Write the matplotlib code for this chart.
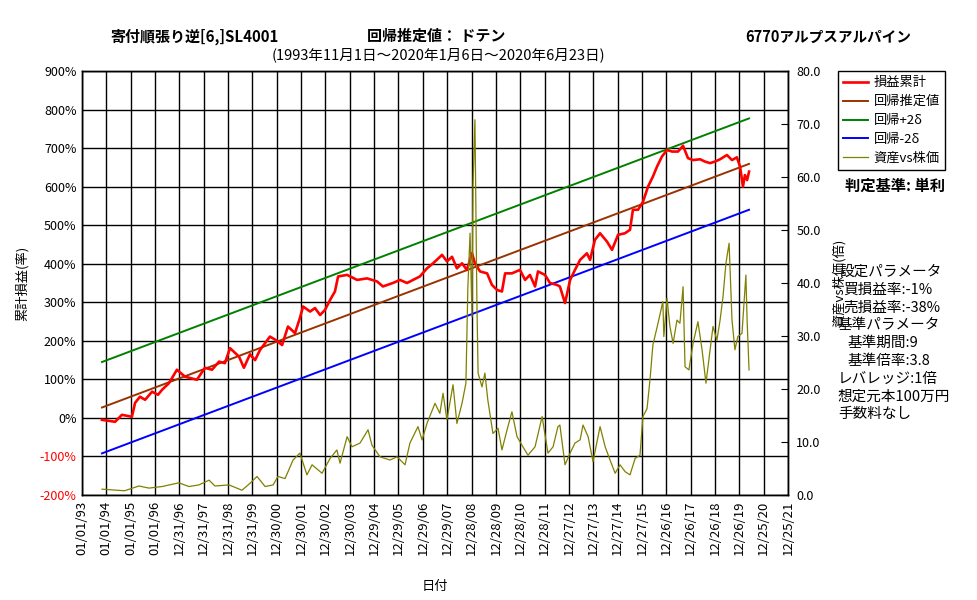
import matplotlib
matplotlib.use('Agg')
import matplotlib.pyplot as plt

plt.rcParams['font.family'] = ['Noto Sans CJK JP', 'DejaVu Sans']

# x values are years since 01/01/93 in 365-day steps (same spacing as the tick grid)
tick_labels = ['01/01/93', '01/01/94', '01/01/95', '01/01/96', '12/31/96', '12/31/97',
               '12/31/98', '12/31/99', '12/30/00', '12/30/01', '12/30/02', '12/30/03',
               '12/29/04', '12/29/05', '12/29/06', '12/29/07', '12/28/08', '12/28/09',
               '12/28/10', '12/28/11', '12/27/12', '12/27/13', '12/27/14', '12/27/15',
               '12/26/16', '12/26/17', '12/26/18', '12/26/19', '12/25/20', '12/25/21']

# 損益累計 (%)
pl_t = [0.82, 1.36, 1.64, 2.05, 2.18, 2.38, 2.59, 2.88, 3.12, 3.29, 3.57, 3.90, 4.23, 4.72,
        5.05, 5.34, 5.63, 5.87, 6.08, 6.45, 6.65, 6.90, 7.11, 7.31, 7.72, 8.01, 8.22, 8.46,
        8.75, 8.95, 9.08, 9.37, 9.57, 9.78, 9.98, 10.19, 10.39, 10.52, 10.89, 11.30, 11.71,
        12.12, 12.36, 12.77, 13.06, 13.35, 13.60, 13.88, 14.17, 14.42, 14.79, 14.99, 15.20,
        15.40, 15.61, 15.81, 16.02, 16.14, 16.35, 16.64, 16.84, 17.05, 17.25, 17.38, 17.66,
        17.99, 18.20, 18.40, 18.61, 18.73, 19.02, 19.22, 19.51, 19.63, 19.84, 20.05, 20.25,
        20.46, 20.74, 20.87, 21.07, 21.28, 21.57, 21.77, 22.02, 22.30, 22.51, 22.63, 22.84,
        23.04, 23.25, 23.45, 23.62, 23.82, 24.03, 24.24, 24.48, 24.69, 24.89, 25.10, 25.39,
        25.59, 25.80, 26.00, 26.21, 26.49, 26.70, 26.90, 27.03, 27.15, 27.23, 27.32, 27.40]
pl_pct = [-5, -10, 8, 3, 39, 55, 47, 68, 60, 73, 90, 125, 107, 99,
          130, 125, 146, 142, 181, 159, 130, 165, 150, 176, 211, 200, 189, 237,
          220, 259, 289, 276, 285, 267, 280, 306, 328, 367, 371, 358, 362,
          354, 341, 350, 358, 350, 358, 367, 388, 401, 423, 406, 418,
          388, 401, 384, 427, 401, 380, 375, 345, 332, 328, 375, 375,
          384, 358, 371, 341, 380, 371, 350, 345, 341, 298, 358, 384,
          410, 427, 410, 462, 479, 457, 436, 475, 479, 488, 540, 540,
          560, 600, 626, 652, 678, 695, 691, 691, 706, 674, 669, 671,
          665, 661, 665, 671, 682, 669, 676, 652, 600, 630, 617, 639]

# regression lines (start / end)
reg_t = [0.82, 27.40]
reg_mid = [27, 659]
reg_up = [145, 777]
reg_dn = [-92, 540]

# 資産vs株価 (倍)
ratio_t = [0.82, 1.44, 1.75, 2.34, 2.75, 3.29, 3.98, 4.39, 4.80, 5.22, 5.46, 6.04, 6.57,
           6.90, 7.19, 7.52, 7.85, 8.05, 8.34, 8.67, 8.95, 9.24, 9.45, 9.86, 10.19, 10.47,
           10.60, 10.89, 11.09, 11.42, 11.75, 11.91, 12.24, 12.65, 12.94, 13.27, 13.47,
           13.80, 13.97, 14.17, 14.50, 14.70, 14.83, 14.99, 15.24, 15.40, 15.61, 15.77,
           15.85, 15.94, 16.02, 16.06, 16.14, 16.22, 16.27, 16.43, 16.55, 16.67, 16.88,
           17.09, 17.25, 17.46, 17.66, 17.87, 18.11, 18.32, 18.61, 18.90, 19.14, 19.35,
           19.55, 19.63, 19.84, 20.05, 20.25, 20.46, 20.58, 20.79, 20.99, 21.28, 21.49,
           21.69, 21.90, 22.10, 22.31, 22.51, 22.72, 22.92, 23.04, 23.21, 23.33, 23.45,
           23.66, 23.86, 23.90, 24.03, 24.15, 24.28, 24.44, 24.56, 24.69, 24.77, 24.93,
           25.10, 25.30, 25.47, 25.63, 25.80, 25.92, 26.08, 26.21, 26.33, 26.45, 26.58,
           26.70, 26.82, 26.94, 27.11, 27.27, 27.32, 27.40]
ratio_val = [1.1, 0.9, 0.8, 1.7, 1.3, 1.6, 2.3, 1.6, 1.9, 2.8, 1.7, 1.9, 0.9,
             2.2, 3.5, 1.6, 1.9, 3.5, 3.1, 6.6, 7.9, 3.8, 5.7, 4.1, 6.9, 8.5,
             6.0, 11.0, 9.1, 9.8, 12.3, 9.4, 7.2, 6.6, 7.2, 5.7, 9.8,
             12.9, 10.4, 13.5, 17.3, 15.4, 19.2, 14.2, 20.8, 13.5, 17.3, 21.1,
             39.3, 49.4, 33.6, 58.2, 70.8, 36.8, 23.0, 20.4, 23.0, 17.9, 11.6,
             12.6, 8.5, 12.3, 15.7, 11.0, 9.1, 7.5, 9.1, 14.8, 7.9, 9.1,
             12.9, 13.2, 5.7, 7.9, 9.8, 10.4, 13.2, 11.0, 6.3, 12.9, 9.1,
             6.6, 4.1, 5.7, 4.4, 3.8, 6.9, 7.5, 14.8, 16.3, 21.7, 28.3,
             32.4, 36.5, 29.9, 37.1, 31.8, 28.6, 33.0, 32.4, 39.3, 24.2, 23.6,
             28.6, 32.7, 27.4, 21.1, 27.4, 31.8, 29.2, 33.0, 37.4, 43.7, 47.5,
             33.0, 27.4, 29.9, 30.5, 41.5, 33.0, 23.6]

W, H = 977, 600
fig = plt.figure(figsize=(W / 100, H / 100), dpi=100)
ax = fig.add_axes([82 / W, 105 / H, 706 / W, 424 / H])
ax2 = ax.twinx()

l1, = ax.plot(pl_t, pl_pct, color='#FF0000', lw=1.9, label='損益累計', zorder=5)
l2, = ax.plot(reg_t, reg_mid, color='#993300', lw=1.4, label='回帰推定値', zorder=4)
l3, = ax.plot(reg_t, reg_up, color='#008000', lw=1.4, label='回帰+2δ', zorder=4)
l4, = ax.plot(reg_t, reg_dn, color='#0000FF', lw=1.4, label='回帰-2δ', zorder=4)
l5, = ax2.plot(ratio_t, ratio_val, color='#808000', lw=0.9, label='資産vs株価')

# left axis
ax.set_xlim(0, len(tick_labels) - 1)
ax.set_ylim(-200, 900)
yt = list(range(-200, 1000, 100))
ax.set_yticks(yt)
ax.set_yticklabels([f'{v}%' for v in yt], fontsize=9)
for v, lab in zip(yt, ax.get_yticklabels()):
    if v < 0:
        lab.set_color('red')
ax.set_xticks(range(len(tick_labels)))
ax.set_xticklabels(tick_labels, rotation=90, fontsize=9.5)
ax.tick_params(axis='both', length=0, pad=4)
ax.grid(True, color='black', lw=1)
ax.set_axisbelow(True)
ax.set_ylabel('累計損益(率)', fontsize=9.5, labelpad=8)
ax.set_xlabel('日付', fontsize=9.5, labelpad=18)

# right axis
ax2.set_ylim(0, 80)
ax2.set_yticks(range(0, 81, 10))
ax2.set_yticklabels([f'{v:.1f}' for v in range(0, 81, 10)], fontsize=9)
ax2.tick_params(axis='y', direction='in', length=5, pad=6)
ax2.set_ylabel('資産vs株価(倍)', fontsize=9.5, labelpad=8)

for a in (ax, ax2):
    for s in a.spines.values():
        s.set_color('black')
        s.set_linewidth(1)

# titles
fig.text(110 / W, 1 - 37 / H, '寄付順張り逆[6,]SL4001', fontsize=10.8, fontweight='bold', va='center')
fig.text(367 / W, 1 - 36 / H, '回帰推定値： ドテン', fontsize=10.8, fontweight='bold', va='center')
fig.text(745 / W, 1 - 37 / H, '6770アルプスアルパイン', fontsize=10.5, fontweight='bold', va='center')
fig.text(272 / W, 1 - 55 / H, '(1993年11月1日～2020年1月6日～2020年6月23日)', fontsize=10.5, va='center')

# legend
leg = fig.legend([l1, l2, l3, l4, l5], [l.get_label() for l in (l1, l2, l3, l4, l5)],
                 loc='upper left', bbox_to_anchor=(838 / W, 1 - 71 / H), fontsize=9.5,
                 frameon=True, fancybox=False, edgecolor='black', framealpha=1,
                 handlelength=1.9, handletextpad=0.4, labelspacing=0.45, borderpad=0.4,
                 borderaxespad=0)
leg.get_frame().set_linewidth(1)

fig.text(845 / W, 1 - 186 / H, '判定基準: 単利', fontsize=11, fontweight='bold', va='center')

# parameter text block
param_lines = [('設定パラメータ', 839), ('買損益率:-1%', 843), ('売損益率:-38%', 843),
               ('基準パラメータ', 838), ('基準期間:9', 848), ('基準倍率:3.8', 848),
               ('レバレッジ:1倍', 838), ('想定元本100万円', 838), ('手数料なし', 838)]
for i, (txt, px) in enumerate(param_lines):
    fig.text(px / W, 1 - (272 + i * 17.8) / H, txt, fontsize=10.5, va='center')

fig.savefig('out.png', dpi=100)
